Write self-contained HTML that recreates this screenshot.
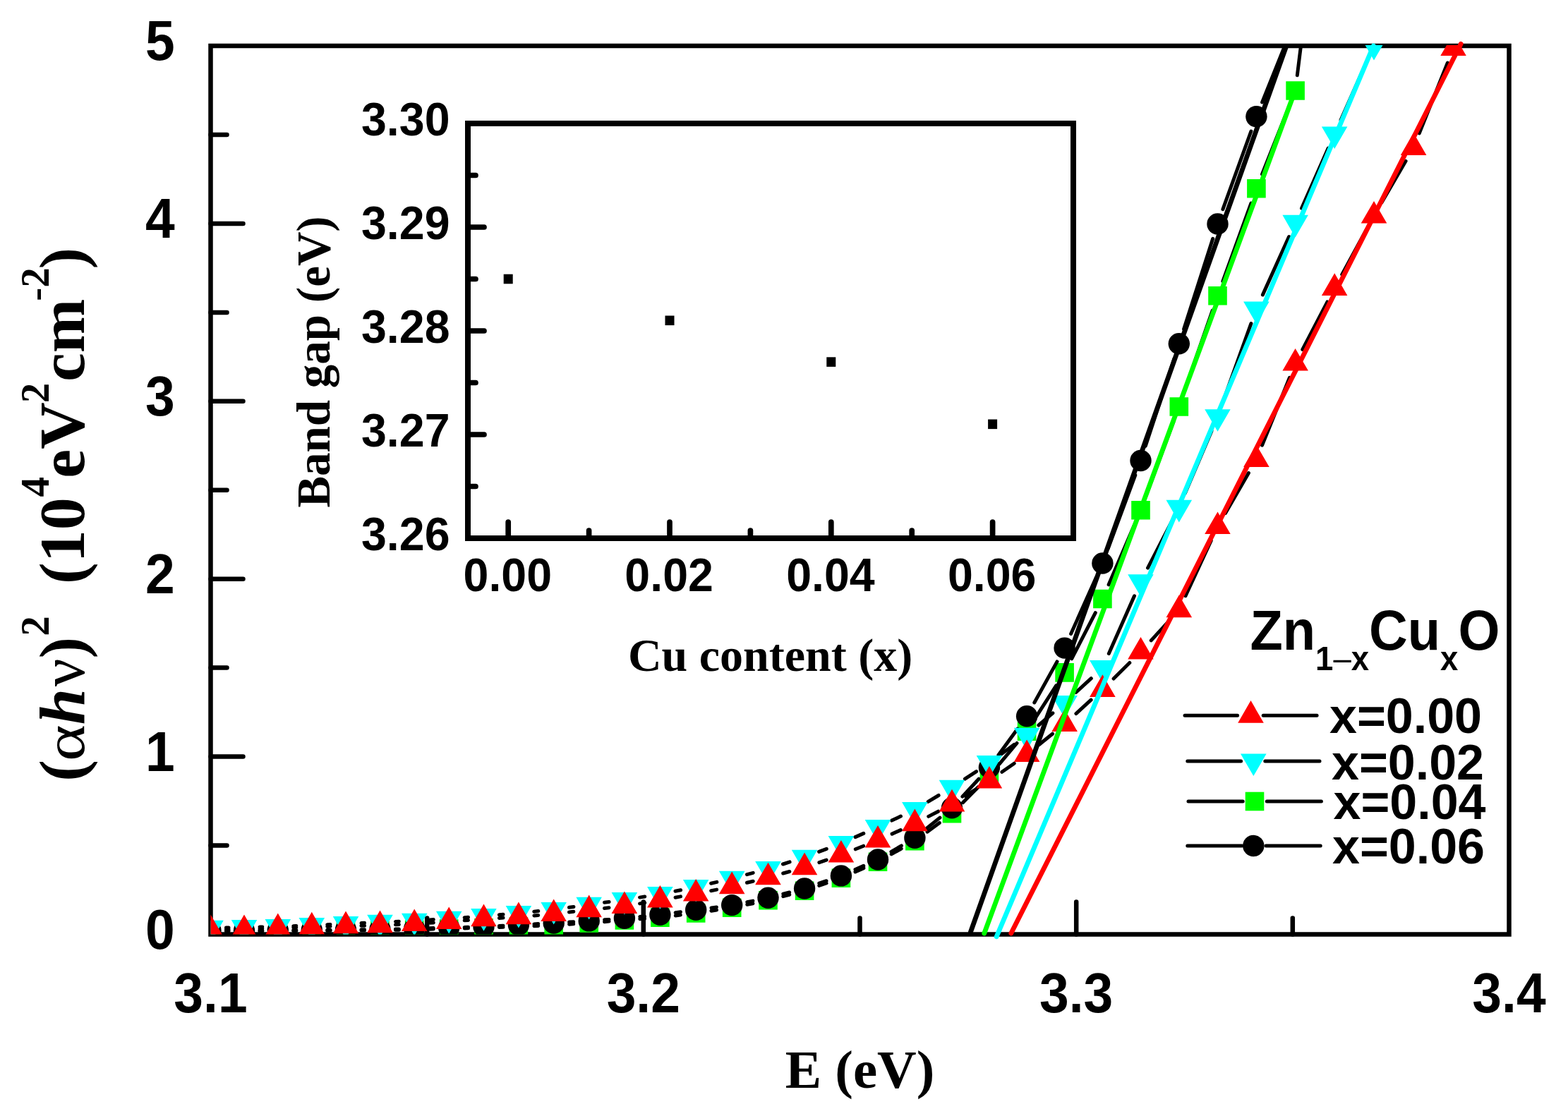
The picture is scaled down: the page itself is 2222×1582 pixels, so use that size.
<!DOCTYPE html><html><head><meta charset="utf-8"><style>html,body{margin:0;padding:0;background:#fff;}svg{display:block}</style></head><body>
<svg width="2222" height="1582" viewBox="0 0 2222 1582">
<rect width="2222" height="1582" fill="#fff"/>
<defs><clipPath id="pc"><rect x="298.5" y="64.0" width="1840.0" height="1260.5"/></clipPath></defs>
<rect x="298.5" y="65.0" width="1840.0" height="1259.5" fill="none" stroke="#000" stroke-width="6.5"/>
<path d="M605.2 1324.5V1301.5M911.8 1324.5V1278.5M1218.5 1324.5V1301.5M1525.2 1324.5V1278.5M1831.8 1324.5V1301.5M298.5 1198.5H321.5M298.5 1072.6H344.5M298.5 946.6H321.5M298.5 820.7H344.5M298.5 694.8H321.5M298.5 568.8H344.5M298.5 442.9H321.5M298.5 316.9H344.5M298.5 191.0H321.5" stroke="#000" stroke-width="6.5" stroke-linecap="round" fill="none"/>
<g clip-path="url(#pc)">
<path d="M320.5 1320.4L324.0 1320.3M368.0 1320.0L371.8 1320.0M415.8 1319.6L419.8 1319.6M463.8 1319.2L468.0 1319.2M512.0 1318.8L516.5 1318.8M560.5 1318.2L565.3 1318.2M609.2 1317.2L614.2 1317.1M658.2 1316.0L663.5 1315.8M707.4 1314.5L713.0 1314.3M756.9 1312.7L762.7 1312.4M806.6 1310.2L812.7 1309.8M856.6 1306.7L863.0 1306.1M906.8 1302.7L913.5 1302.3M957.3 1298.0L964.3 1297.1M1007.9 1291.2L1015.5 1290.0M1058.8 1282.3L1066.9 1280.7M1109.8 1270.7L1118.8 1268.3M1160.8 1255.5L1171.1 1252.0M1212.0 1235.9L1223.9 1230.6M1263.2 1210.9L1277.2 1203.1M1314.0 1179.2L1331.3 1166.4M1364.5 1137.7L1386.4 1115.6M1416.1 1083.1L1441.0 1053.5M1467.0 1018.1L1496.7 971.9M1518.7 933.8L1552.3 868.6M1571.1 828.8L1607.8 743.5M1624.1 702.7L1663.2 597.1M1678.0 555.7L1718.2 440.1M1732.9 398.6L1772.9 288.0M1788.5 246.9L1827.5 148.9M1838.3 106.7L1888.4 -296.7" stroke="#000" stroke-width="5.0" stroke-linecap="round" fill="none"/>
<path d="M285.2 1307.2h26.6v26.6h-26.6ZM332.7 1306.9h26.6v26.6h-26.6ZM380.5 1306.5h26.6v26.6h-26.6ZM428.5 1306.1h26.6v26.6h-26.6ZM476.7 1305.7h26.6v26.6h-26.6ZM525.2 1305.3h26.6v26.6h-26.6ZM573.9 1304.5h26.6v26.6h-26.6ZM622.9 1303.2h26.6v26.6h-26.6ZM672.2 1302.0h26.6v26.6h-26.6ZM721.6 1300.2h26.6v26.6h-26.6ZM771.4 1298.3h26.6v26.6h-26.6ZM821.4 1295.1h26.6v26.6h-26.6ZM871.6 1291.1h26.6v26.6h-26.6ZM922.1 1287.3h26.6v26.6h-26.6ZM972.9 1281.2h26.6v26.6h-26.6ZM1023.9 1273.4h26.6v26.6h-26.6ZM1075.2 1263.0h26.6v26.6h-26.6ZM1126.8 1249.4h26.6v26.6h-26.6ZM1178.6 1231.5h26.6v26.6h-26.6ZM1230.7 1208.4h26.6v26.6h-26.6ZM1283.1 1179.0h26.6v26.6h-26.6ZM1335.7 1140.0h26.6v26.6h-26.6ZM1388.6 1086.7h26.6v26.6h-26.6ZM1441.8 1023.3h26.6v26.6h-26.6ZM1495.3 940.1h26.6v26.6h-26.6ZM1549.1 835.7h26.6v26.6h-26.6ZM1603.2 710.0h26.6v26.6h-26.6ZM1657.5 563.2h26.6v26.6h-26.6ZM1712.2 406.0h26.6v26.6h-26.6ZM1767.1 254.0h26.6v26.6h-26.6ZM1822.3 115.2h26.6v26.6h-26.6Z" fill="#00ff00"/>
<path d="M320.5 1319.4L324.0 1319.3M368.0 1319.0L371.8 1319.0M415.8 1318.6L419.8 1318.6M463.8 1318.2L468.0 1318.2M512.0 1317.7L516.5 1317.7M560.5 1316.9L565.3 1316.9M609.2 1315.8L614.2 1315.6M658.2 1314.4L663.5 1314.2M707.4 1312.4L713.0 1312.2M756.9 1309.9L762.7 1309.6M806.6 1307.1L812.7 1306.8M856.6 1303.8L863.0 1303.4M906.8 1299.6L913.5 1299.0M957.2 1293.8L964.4 1292.7M1008.0 1286.9L1015.4 1285.9M1058.8 1278.7L1066.9 1277.1M1109.8 1267.2L1118.7 1265.0M1160.8 1252.2L1171.1 1248.7M1212.0 1232.5L1223.8 1227.4M1262.9 1207.3L1277.4 1198.9M1313.5 1173.9L1331.9 1159.1M1363.9 1129.1L1387.0 1104.2M1414.9 1070.2L1442.1 1033.1M1465.8 996.0L1498.0 937.9M1517.6 898.5L1553.4 818.6M1570.1 777.9L1608.8 673.6M1623.3 632.1L1664.0 508.2M1677.6 466.4L1718.7 338.3M1732.9 296.7L1772.9 186.0M1788.6 144.9L1827.4 48.3" stroke="#000" stroke-width="5.0" stroke-linecap="round" fill="none"/>
<g fill="#000"><circle cx="298.5" cy="1319.5" r="15.2"/><circle cx="346.0" cy="1319.2" r="15.2"/><circle cx="393.8" cy="1318.8" r="15.2"/><circle cx="441.8" cy="1318.4" r="15.2"/><circle cx="490.0" cy="1318.0" r="15.2"/><circle cx="538.5" cy="1317.4" r="15.2"/><circle cx="587.2" cy="1316.4" r="15.2"/><circle cx="636.2" cy="1315.0" r="15.2"/><circle cx="685.5" cy="1313.6" r="15.2"/><circle cx="734.9" cy="1311.0" r="15.2"/><circle cx="784.7" cy="1308.5" r="15.2"/><circle cx="834.7" cy="1305.4" r="15.2"/><circle cx="884.9" cy="1301.8" r="15.2"/><circle cx="935.4" cy="1296.8" r="15.2"/><circle cx="986.2" cy="1289.7" r="15.2"/><circle cx="1037.2" cy="1283.1" r="15.2"/><circle cx="1088.5" cy="1272.7" r="15.2"/><circle cx="1140.1" cy="1259.5" r="15.2"/><circle cx="1191.9" cy="1241.4" r="15.2"/><circle cx="1244.0" cy="1218.5" r="15.2"/><circle cx="1296.4" cy="1187.7" r="15.2"/><circle cx="1349.0" cy="1145.3" r="15.2"/><circle cx="1401.9" cy="1088.0" r="15.2"/><circle cx="1455.1" cy="1015.3" r="15.2"/><circle cx="1508.6" cy="918.6" r="15.2"/><circle cx="1562.4" cy="798.5" r="15.2"/><circle cx="1616.5" cy="653.0" r="15.2"/><circle cx="1670.8" cy="487.3" r="15.2"/><circle cx="1725.5" cy="317.4" r="15.2"/><circle cx="1780.4" cy="165.3" r="15.2"/><circle cx="1835.6" cy="27.9" r="15.2"/></g>
<path d="M320.5 1314.9L324.0 1314.9M368.0 1314.1L371.8 1314.0M415.8 1312.7L419.8 1312.5M463.8 1310.7L468.0 1310.5M512.0 1308.6L516.5 1308.3M560.5 1306.4L565.3 1306.2M609.2 1304.0L614.3 1303.6M658.2 1300.7L663.5 1300.2M707.4 1296.7L713.0 1296.3M756.8 1292.2L762.8 1291.6M806.5 1286.3L812.9 1285.4M856.5 1279.3L863.1 1278.5M906.6 1272.1L913.7 1271.0M957.0 1263.3L964.6 1261.7M1007.6 1252.3L1015.8 1250.4M1058.5 1239.6L1067.2 1237.3M1109.5 1225.0L1119.1 1221.9M1160.6 1207.4L1171.3 1203.3M1212.0 1186.6L1223.8 1181.4M1263.8 1163.1L1276.5 1157.1M1315.3 1136.4L1330.1 1127.5M1367.4 1104.2L1383.6 1093.6M1419.6 1068.5L1437.4 1055.3M1471.9 1028.0L1491.9 1010.8M1524.8 981.5L1546.3 961.6M1571.3 926.5L1607.5 844.8M1626.5 805.1L1660.7 738.9M1679.4 699.1L1716.9 610.9M1732.9 570.0L1772.9 458.7M1789.4 417.9L1826.6 335.5M1844.5 295.3L1882.2 210.1M1900.1 169.9L1938.0 84.5" stroke="#000" stroke-width="5.0" stroke-linecap="round" fill="none"/>
<path d="M298.5 1336.4L316.8 1304.8L280.2 1304.8ZM346.0 1335.6L364.3 1304.0L327.8 1304.0ZM393.8 1334.7L412.1 1303.0L375.5 1303.0ZM441.8 1332.7L460.1 1301.0L423.5 1301.0ZM490.0 1330.7L508.3 1299.0L471.8 1299.0ZM538.5 1328.4L556.8 1296.8L520.2 1296.8ZM587.2 1326.4L605.5 1294.8L569.0 1294.8ZM636.2 1323.4L654.5 1291.8L618.0 1291.8ZM685.5 1319.7L703.7 1288.0L667.2 1288.0ZM734.9 1315.5L753.2 1283.9L716.7 1283.9ZM784.7 1310.5L802.9 1278.9L766.4 1278.9ZM834.7 1303.4L852.9 1271.8L816.4 1271.8ZM884.9 1296.6L903.2 1265.0L866.6 1265.0ZM935.4 1288.7L953.7 1257.0L917.1 1257.0ZM986.2 1278.5L1004.4 1246.9L967.9 1246.9ZM1037.2 1266.4L1055.5 1234.8L1018.9 1234.8ZM1088.5 1252.7L1106.8 1221.0L1070.2 1221.0ZM1140.1 1236.4L1158.3 1204.8L1121.8 1204.8ZM1191.9 1216.5L1210.2 1184.9L1173.6 1184.9ZM1244.0 1193.7L1262.3 1162.0L1225.7 1162.0ZM1296.4 1168.7L1314.6 1137.0L1278.1 1137.0ZM1349.0 1137.4L1367.3 1105.8L1330.7 1105.8ZM1401.9 1102.6L1420.2 1071.0L1383.7 1071.0ZM1455.1 1063.4L1473.4 1031.8L1436.9 1031.8ZM1508.6 1017.6L1526.9 986.0L1490.4 986.0ZM1562.4 967.7L1580.7 936.1L1544.1 936.1ZM1616.5 845.8L1634.7 814.2L1598.2 814.2ZM1670.8 740.4L1689.1 708.8L1652.5 708.8ZM1725.5 611.8L1743.7 580.2L1707.2 580.2ZM1780.4 459.1L1798.7 427.4L1762.1 427.4ZM1835.6 336.5L1853.9 304.8L1817.4 304.8ZM1891.2 211.1L1909.4 179.4L1872.9 179.4ZM1947.0 85.5L1965.3 53.9L1928.7 53.9Z" fill="#00ffff"/>
<path d="M320.5 1317.6L324.0 1317.6M368.0 1316.7L371.8 1316.5M415.8 1314.9L419.8 1314.7M463.8 1313.4L468.0 1313.2M512.0 1312.2L516.5 1312.2M560.5 1310.8L565.3 1310.5M609.2 1308.2L614.3 1307.9M658.2 1304.8L663.5 1304.4M707.4 1301.4L713.0 1301.0M756.9 1297.9L762.7 1297.4M806.5 1293.0L812.8 1292.3M856.5 1287.5L863.0 1286.8M906.6 1280.9L913.7 1279.8M957.1 1272.3L964.5 1270.9M1007.7 1262.7L1015.6 1261.1M1058.5 1251.3L1067.2 1249.2M1109.7 1238.0L1118.8 1235.5M1160.9 1222.6L1171.1 1219.1M1212.3 1203.8L1223.6 1199.2M1264.1 1182.1L1276.3 1176.6M1315.8 1157.4L1329.6 1150.2M1367.7 1128.3L1383.3 1118.6M1419.9 1094.3L1437.2 1082.2M1472.3 1055.7L1491.5 1040.2M1524.9 1011.6L1546.1 992.2M1578.1 962.0L1600.8 939.5M1631.3 907.9L1656.0 880.9M1680.0 844.7L1716.2 766.5M1736.5 727.5L1769.4 670.5M1788.6 631.1L1827.4 535.4M1845.8 495.5L1881.0 427.9M1901.7 389.1L1936.5 325.3M1958.0 287.0L1992.1 228.3M2011.3 188.9L2051.4 89.0" stroke="#000" stroke-width="5.0" stroke-linecap="round" fill="none"/>
<path d="M298.5 1296.6L316.8 1328.2L280.2 1328.2ZM346.0 1296.4L364.3 1328.0L327.8 1328.0ZM393.8 1294.6L412.1 1326.2L375.5 1326.2ZM441.8 1292.8L460.1 1324.5L423.5 1324.5ZM490.0 1291.6L508.3 1323.2L471.8 1323.2ZM538.5 1290.6L556.8 1322.2L520.2 1322.2ZM587.2 1288.5L605.5 1320.1L569.0 1320.1ZM636.2 1285.4L654.5 1317.0L618.0 1317.0ZM685.5 1281.6L703.7 1313.2L667.2 1313.2ZM734.9 1278.6L753.2 1310.2L716.7 1310.2ZM784.7 1274.5L802.9 1306.1L766.4 1306.1ZM834.7 1268.6L852.9 1300.2L816.4 1300.2ZM884.9 1263.5L903.2 1295.1L866.6 1295.1ZM935.4 1255.0L953.7 1286.6L917.1 1286.6ZM986.2 1246.0L1004.4 1277.6L967.9 1277.6ZM1037.2 1235.6L1055.5 1267.2L1018.9 1267.2ZM1088.5 1222.7L1106.8 1254.3L1070.2 1254.3ZM1140.1 1208.6L1158.3 1240.2L1121.8 1240.2ZM1191.9 1190.9L1210.2 1222.5L1173.6 1222.5ZM1244.0 1169.9L1262.3 1201.5L1225.7 1201.5ZM1296.4 1146.6L1314.6 1178.2L1278.1 1178.2ZM1349.0 1118.8L1367.3 1150.5L1330.7 1150.5ZM1401.9 1085.9L1420.2 1117.5L1383.7 1117.5ZM1455.1 1048.4L1473.4 1080.0L1436.9 1080.0ZM1508.6 1005.3L1526.9 1037.0L1490.4 1037.0ZM1562.4 956.3L1580.7 987.9L1544.1 987.9ZM1616.5 903.0L1634.7 934.6L1598.2 934.6ZM1670.8 843.6L1689.1 875.2L1652.5 875.2ZM1725.5 725.4L1743.7 757.0L1707.2 757.0ZM1780.4 630.4L1798.7 662.0L1762.1 662.0ZM1835.6 493.9L1853.9 525.5L1817.4 525.5ZM1891.2 387.3L1909.4 418.9L1872.9 418.9ZM1947.0 284.9L1965.3 316.6L1928.7 316.6ZM2003.1 188.2L2021.4 219.9L1984.8 219.9ZM2059.6 47.5L2077.8 79.1L2041.3 79.1Z" fill="#ff0000"/>
</g>
<path d="M1375.5 1321.0L1822.2 67.0" stroke="#000" stroke-width="6.8" stroke-linecap="round"/>
<path d="M1394.8 1323.0L1835.5 128.0" stroke="#00ff00" stroke-width="6.8" stroke-linecap="round"/>
<path d="M1412.2 1327.8L1946.3 65.0" stroke="#00ffff" stroke-width="6.8" stroke-linecap="round"/>
<path d="M1432.8 1323.0L2070.2 62.2" stroke="#ff0000" stroke-width="6.8" stroke-linecap="round"/>
<text transform="translate(298.5,1434.8) scale(1.000,1.075)" text-anchor="middle" style="font-family:'Liberation Sans',Arial,sans-serif;font-weight:bold;font-size:75.0px">3.1</text>
<text transform="translate(911.8,1434.8) scale(1.000,1.075)" text-anchor="middle" style="font-family:'Liberation Sans',Arial,sans-serif;font-weight:bold;font-size:75.0px">3.2</text>
<text transform="translate(1525.2,1434.8) scale(1.000,1.075)" text-anchor="middle" style="font-family:'Liberation Sans',Arial,sans-serif;font-weight:bold;font-size:75.0px">3.3</text>
<text transform="translate(2138.5,1434.8) scale(1.000,1.075)" text-anchor="middle" style="font-family:'Liberation Sans',Arial,sans-serif;font-weight:bold;font-size:75.0px">3.4</text>
<text transform="translate(247.6,1344.5) scale(1.000,1.075)" text-anchor="end" style="font-family:'Liberation Sans',Arial,sans-serif;font-weight:bold;font-size:75.0px">0</text>
<text transform="translate(247.6,1092.6) scale(1.000,1.075)" text-anchor="end" style="font-family:'Liberation Sans',Arial,sans-serif;font-weight:bold;font-size:75.0px">1</text>
<text transform="translate(247.6,840.7) scale(1.000,1.075)" text-anchor="end" style="font-family:'Liberation Sans',Arial,sans-serif;font-weight:bold;font-size:75.0px">2</text>
<text transform="translate(247.6,588.8) scale(1.000,1.075)" text-anchor="end" style="font-family:'Liberation Sans',Arial,sans-serif;font-weight:bold;font-size:75.0px">3</text>
<text transform="translate(247.6,336.9) scale(1.000,1.075)" text-anchor="end" style="font-family:'Liberation Sans',Arial,sans-serif;font-weight:bold;font-size:75.0px">4</text>
<text transform="translate(247.6,85.0) scale(1.000,1.075)" text-anchor="end" style="font-family:'Liberation Sans',Arial,sans-serif;font-weight:bold;font-size:75.0px">5</text>
<text transform="translate(1218.5,1541.7) scale(1.000,1.000)" text-anchor="middle" style="font-family:'Liberation Serif','Times New Roman',serif;font-weight:bold;font-size:77.0px">E (eV)</text>
<text transform="translate(119.0,1107.7) rotate(-90) scale(1.000,1.000)" style="font-family:'Liberation Serif','Times New Roman',serif;font-weight:bold;font-size:92.0px">(</text>
<text transform="translate(119.0,1079.0) rotate(-90) scale(1.075,0.883)" style="font-family:'Liberation Serif','Times New Roman',serif;font-weight:normal;font-size:92.0px">α</text>
<text transform="translate(119.0,1027.2) rotate(-90) scale(1.000,1.000)" style="font-family:'Liberation Serif','Times New Roman',serif;font-weight:bold;font-style:italic;font-size:92.0px">h</text>
<text transform="translate(119.0,973.2) rotate(-90) scale(1.000,1.000)" style="font-family:'Liberation Serif','Times New Roman',serif;font-weight:normal;font-size:88.0px">ν</text>
<text transform="translate(119.0,933.4) rotate(-90) scale(1.000,1.000)" style="font-family:'Liberation Serif','Times New Roman',serif;font-weight:bold;font-size:92.0px">)</text>
<text transform="translate(68.7,901.7) rotate(-90) scale(1.000,1.000)" style="font-family:'Liberation Serif','Times New Roman',serif;font-weight:bold;font-size:57.0px">2</text>
<text transform="translate(119.0,828.0) rotate(-90) scale(1.000,1.000)" style="font-family:'Liberation Serif','Times New Roman',serif;font-weight:bold;font-size:92.0px">(10</text>
<text transform="translate(68.7,704.5) rotate(-90) scale(1.000,1.000)" style="font-family:'Liberation Serif','Times New Roman',serif;font-weight:bold;font-size:57.0px">4</text>
<text transform="translate(119.0,677.7) rotate(-90) scale(1.000,1.000)" style="font-family:'Liberation Serif','Times New Roman',serif;font-weight:bold;font-size:92.0px">eV</text>
<text transform="translate(68.9,571.2) rotate(-90) scale(1.000,1.000)" style="font-family:'Liberation Serif','Times New Roman',serif;font-weight:bold;font-size:57.0px">2</text>
<text transform="translate(119.0,541.1) rotate(-90) scale(1.000,1.000)" style="font-family:'Liberation Serif','Times New Roman',serif;font-weight:bold;font-size:92.0px">cm</text>
<text transform="translate(68.9,426.8) rotate(-90) scale(1.000,1.000)" style="font-family:'Liberation Serif','Times New Roman',serif;font-weight:bold;font-size:57.0px">-2</text>
<text transform="translate(119.0,381.6) rotate(-90) scale(1.000,1.000)" style="font-family:'Liberation Serif','Times New Roman',serif;font-weight:bold;font-size:92.0px">)</text>
<rect x="663.0" y="175.0" width="858.0" height="588.0" fill="none" stroke="#000" stroke-width="8"/>
<path d="M720.2 763.0V740.0M834.6 763.0V752.0M949.0 763.0V740.0M1063.4 763.0V752.0M1177.8 763.0V740.0M1292.2 763.0V752.0M1406.6 763.0V740.0M663.0 689.5H674.0M663.0 616.0H686.0M663.0 542.5H674.0M663.0 469.0H686.0M663.0 395.5H674.0M663.0 322.0H686.0M663.0 248.5H674.0" stroke="#000" stroke-width="7.7" stroke-linecap="round" fill="none"/>
<rect x="713.7" y="388.7" width="13" height="13.6" fill="#000"/>
<rect x="942.5" y="447.5" width="13" height="13.6" fill="#000"/>
<rect x="1171.3" y="506.3" width="13" height="13.6" fill="#000"/>
<rect x="1400.1" y="594.5" width="13" height="13.6" fill="#000"/>
<text transform="translate(719.3,838.3) scale(1.000,1.035)" text-anchor="middle" style="font-family:'Liberation Sans',Arial,sans-serif;font-weight:bold;font-size:64.5px">0.00</text>
<text transform="translate(948.1,838.3) scale(1.000,1.035)" text-anchor="middle" style="font-family:'Liberation Sans',Arial,sans-serif;font-weight:bold;font-size:64.5px">0.02</text>
<text transform="translate(1176.9,838.3) scale(1.000,1.035)" text-anchor="middle" style="font-family:'Liberation Sans',Arial,sans-serif;font-weight:bold;font-size:64.5px">0.04</text>
<text transform="translate(1405.7,838.3) scale(1.000,1.035)" text-anchor="middle" style="font-family:'Liberation Sans',Arial,sans-serif;font-weight:bold;font-size:64.5px">0.06</text>
<text transform="translate(637.5,779.5) scale(1.000,1.035)" text-anchor="end" style="font-family:'Liberation Sans',Arial,sans-serif;font-weight:bold;font-size:64.5px">3.26</text>
<text transform="translate(637.5,632.5) scale(1.000,1.035)" text-anchor="end" style="font-family:'Liberation Sans',Arial,sans-serif;font-weight:bold;font-size:64.5px">3.27</text>
<text transform="translate(637.5,485.5) scale(1.000,1.035)" text-anchor="end" style="font-family:'Liberation Sans',Arial,sans-serif;font-weight:bold;font-size:64.5px">3.28</text>
<text transform="translate(637.5,338.5) scale(1.000,1.035)" text-anchor="end" style="font-family:'Liberation Sans',Arial,sans-serif;font-weight:bold;font-size:64.5px">3.29</text>
<text transform="translate(637.5,191.5) scale(1.000,1.035)" text-anchor="end" style="font-family:'Liberation Sans',Arial,sans-serif;font-weight:bold;font-size:64.5px">3.30</text>
<text x="1091.6" y="951" text-anchor="middle" style="font-family:'Liberation Serif','Times New Roman',serif;font-weight:bold;font-size:66px">Cu content (x)</text>
<text transform="translate(467,513) rotate(-90)" text-anchor="middle" style="font-family:'Liberation Serif','Times New Roman',serif;font-weight:bold;font-size:67px">Band gap (eV)</text>
<text transform="translate(1771.5,921) scale(1,1.05)" style="font-family:'Liberation Sans',Arial,sans-serif;font-weight:bold;font-size:75.8px">Zn<tspan dy="27.6" style="font-size:45.5px">1<tspan style="font-weight:normal">–</tspan>x</tspan><tspan dy="-27.6">Cu</tspan><tspan dy="27.6" style="font-size:45.5px">x</tspan><tspan dy="-27.6">O</tspan></text>
<path d="M1679.0 1014.2H1753.6M1790.2 1014.2H1866.1" stroke="#000" stroke-width="5" stroke-linecap="round"/>
<path d="M1772.5 993.1L1790.8 1024.8L1754.2 1024.8Z" fill="#ff0000"/>
<text transform="translate(1884.0,1038.8) scale(1.000,1.000)" text-anchor="start" style="font-family:'Liberation Sans',Arial,sans-serif;font-weight:bold;font-size:70.0px">x=0.00</text>
<path d="M1682.8 1079.0H1758.6M1792.8 1079.0H1870.0" stroke="#000" stroke-width="5" stroke-linecap="round"/>
<path d="M1776.3 1100.1L1794.6 1068.5L1758.0 1068.5Z" fill="#00ffff"/>
<text transform="translate(1887.0,1104.5) scale(1.000,1.000)" text-anchor="start" style="font-family:'Liberation Sans',Arial,sans-serif;font-weight:bold;font-size:70.0px">x=0.02</text>
<path d="M1684.0 1136.0H1761.2M1795.3 1136.0H1872.4" stroke="#000" stroke-width="5" stroke-linecap="round"/>
<path d="M1764.7 1122.7h26.6v26.6h-26.6Z" fill="#00ff00"/>
<text transform="translate(1889.5,1160.5) scale(1.000,1.000)" text-anchor="start" style="font-family:'Liberation Sans',Arial,sans-serif;font-weight:bold;font-size:70.0px">x=0.04</text>
<path d="M1682.8 1199.0H1759.9M1794.0 1199.0H1871.2" stroke="#000" stroke-width="5" stroke-linecap="round"/>
<circle cx="1776.3" cy="1199.0" r="15.2" fill="#000"/>
<text transform="translate(1888.0,1223.7) scale(1.000,1.000)" text-anchor="start" style="font-family:'Liberation Sans',Arial,sans-serif;font-weight:bold;font-size:70.0px">x=0.06</text>
</svg></body></html>
